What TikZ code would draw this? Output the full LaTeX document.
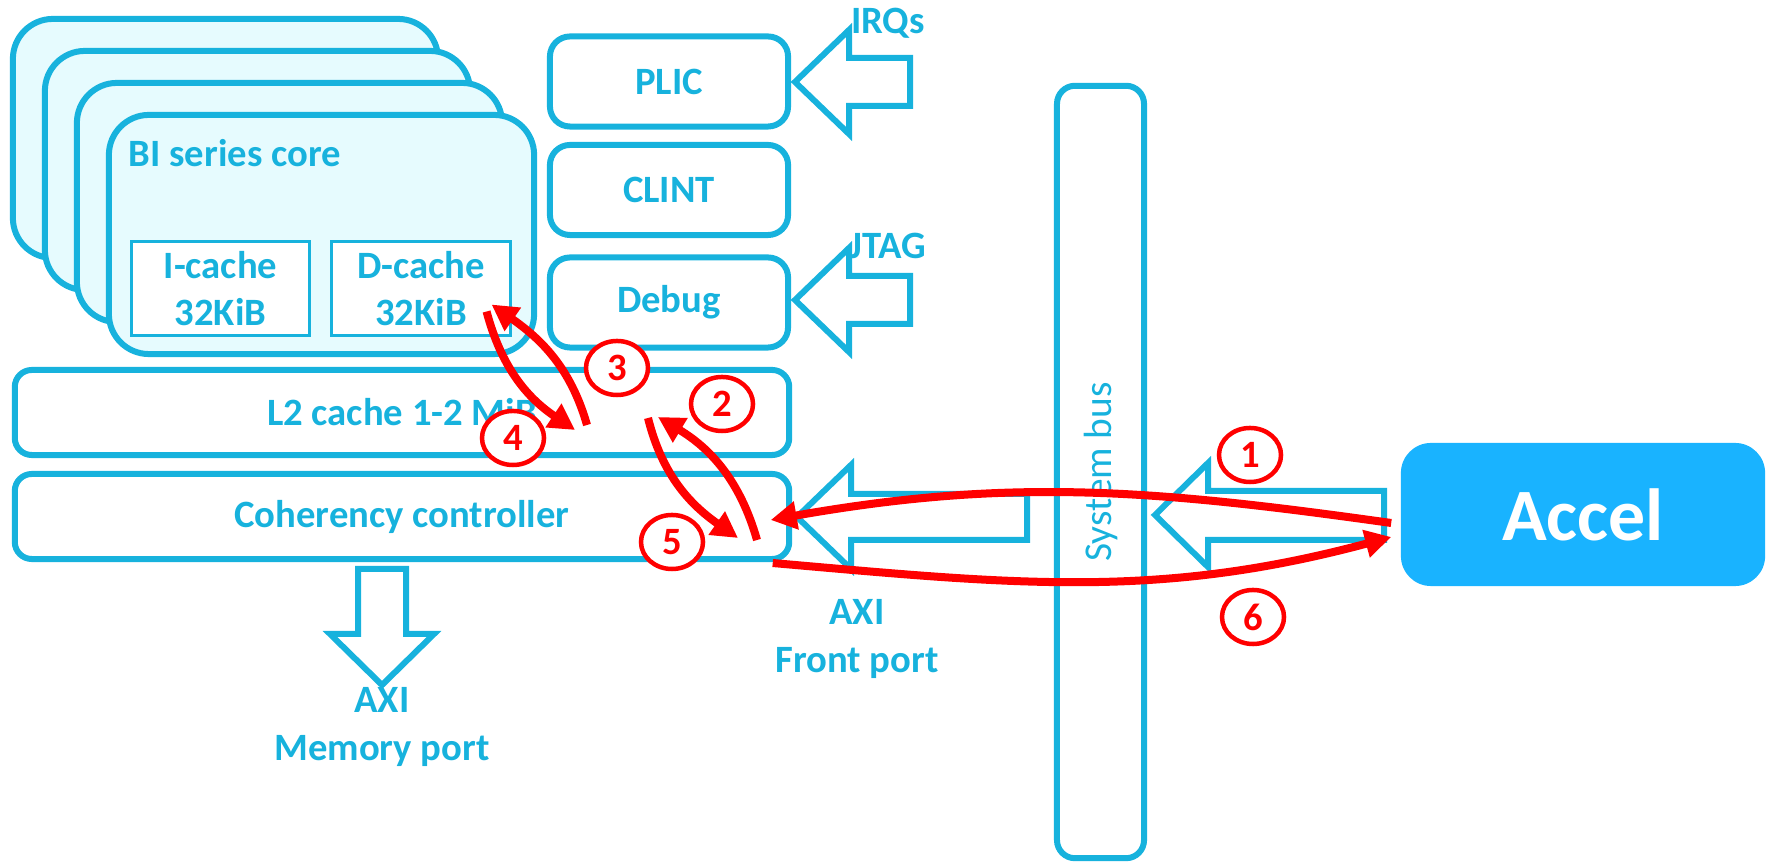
\documentclass[tikz,border=0pt]{standalone}
\usepackage{fontspec}
\setmainfont{Carlito}
\usepackage{tikz}
\usetikzlibrary{shapes.geometric,arrows.meta}

\definecolor{sfblue}{HTML}{17B2DD}
\definecolor{sfcore}{HTML}{E6FBFE}
\definecolor{sfaccel}{HTML}{19B3FF}

\begin{document}
\begin{tikzpicture}[x=0.01cm, y=-0.01cm,
    font=\fontsize{11}{13.4}\selectfont\bfseries, text=sfblue,
    core/.style={draw=sfblue, line width=0.06cm, fill=sfcore, rounded corners=0.4cm, minimum width=4.25cm, minimum height=2.39cm},
    cache/.style={draw=sfblue, line width=0.03cm, fill=white, minimum width=1.78cm, minimum height=0.93cm, align=center, inner sep=0pt},
    unit/.style={draw=sfblue, line width=0.06cm, rounded corners=0.2cm, minimum width=2.38cm, minimum height=0.9cm},
    level/.style={draw=sfblue, line width=0.06cm, rounded corners=0.17cm, minimum width=7.74cm, minimum height=0.85cm},
    port/.style={draw=sfblue, line width=0.06cm},
    flow/.style={draw=red, line width=0.08cm, -{Triangle[length=0.26cm,width=0.27cm]}},
    num/.style={ellipse, draw=red, line width=0.045cm, fill=white, text=red, minimum width=0.62cm, minimum height=0.54cm, inner sep=0pt}]
    \useasboundingbox (0,0) rectangle (1767,862);
    % Nodes
    \node[core] (core1) at (225.5,138.5) {};
    \node[core] (core2) at (257.5,170.5) {};
    \node[core] (core3) at (289.5,202.5) {};
    \node[core] (core4) at (321.5,234.5) {};
    \node[anchor=base west, inner sep=0pt] (coretitle) at (128,167) {BI series core};
    \node[cache] (icache) at (220.5,288.5) {I-cache\\32KiB};
    \node[cache] (dcache) at (421,288.5) {D-cache\\32KiB};
    \node[unit] (plic) at (669,81.5) {PLIC};
    \node[unit] (clint) at (669,190) {CLINT};
    \node[unit] (debug) at (669,302.5) {Debug};
    \node[level] (l2) at (402,412.5) {L2 cache 1-2 MiB};
    \node[level] (coh) at (402,516.5) {Coherency controller};
    \node[draw=sfblue, line width=0.06cm, rounded corners=0.18cm, rotate=90, minimum width=7.72cm, minimum height=0.87cm, font=\fontsize{11.2}{13}\selectfont] (bus) at (1100.5,472) {System bus};
    \node[fill=sfaccel, rounded corners=0.3cm, minimum width=3.64cm, minimum height=1.43cm, text=white, font=\fontsize{21}{25}\selectfont\bfseries] (accel) at (1583,514.5) {Accel};
    % Ports
    \draw[port] (795,82) -- (849,30) -- (849,58) -- (910,58) -- (910,106) -- (849,106) -- (849,134) -- cycle;
    \draw[port] (795,300) -- (849,248) -- (849,276) -- (910,276) -- (910,324) -- (849,324) -- (849,352) -- cycle;
    \draw[port] (797,517) -- (851,465) -- (851,494) -- (1027,494) -- (1027,540) -- (851,540) -- (851,569) -- cycle;
    \draw[port] (1155,515) -- (1208,463) -- (1208,491) -- (1384,491) -- (1384,540) -- (1208,540) -- (1208,567) -- cycle;
    \draw[port] (358,569) -- (406,569) -- (406,634) -- (434,634) -- (382,685) -- (330,634) -- (358,634) -- cycle;
    \node (irq) at (888,23) {IRQs};
    \node (jtag) at (888,246) {JTAG};
    \node[align=center] (memport) at (382,727) {AXI\\Memory port};
    \node[align=center] (frontport) at (857,639) {AXI\\Front port};
    % Edges
    \coordinate (l2up) at (587,425);
    \coordinate (l2down) at (575,430);
    \coordinate (l2in) at (658,417);
    \coordinate (l2out) at (648,418);
    \coordinate (cohup) at (757,540);
    \coordinate (cohdown) at (738,538);
    \draw[flow] ([shift={(-9,8.5)}]accel.west) to[out=172, in=10] ([shift={(-21.5,3.5)}]coh.east);
    \draw[flow] (cohup) to[out=106, in=-31] (l2in);
    \draw[flow] (l2up) to[out=106, in=-35] ([shift={(-20,-32)}]dcache.south east);
    \draw[flow] ([shift={(-25,-25)}]dcache.south east) to[out=-75, in=146] (l2down);
    \draw[flow] (l2out) to[out=-76, in=145] (cohdown);
    \draw[flow] ([shift={(-19.5,1)}]coh.south east) to[out=-5, in=195] ([shift={(-9,22.5)}]accel.west);
    \node[num] (n1) at (1250,455) {1};
    \node[num] (n2) at (722,404) {2};
    \node[num] (n3) at (617,368) {3};
    \node[num] (n4) at (513,438) {4};
    \node[num] (n5) at (672,542) {5};
    \node[num] (n6) at (1253,617) {6};
\end{tikzpicture}
\end{document}
